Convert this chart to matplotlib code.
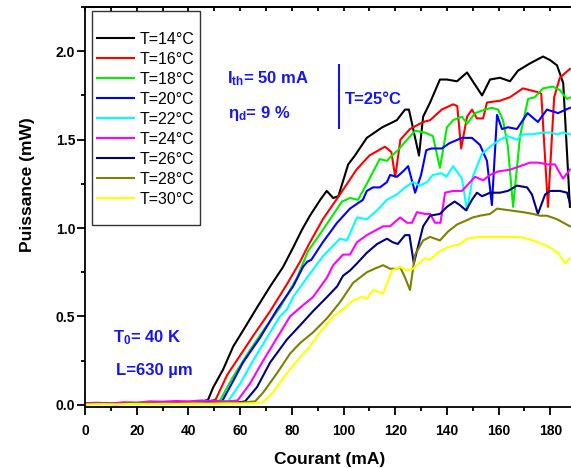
import matplotlib
matplotlib.use('Agg')
import matplotlib.pyplot as plt
from matplotlib.patches import Rectangle
from matplotlib.ticker import MultipleLocator, FormatStrFormatter

plt.rcParams['font.family'] = ['Liberation Sans', 'DejaVu Sans']
plt.rcParams['mathtext.fontset'] = 'custom'
plt.rcParams['mathtext.rm'] = 'Liberation Sans'
plt.rcParams['mathtext.bf'] = 'Liberation Sans:bold'
plt.rcParams['mathtext.it'] = 'Liberation Sans:italic'

# courant (mA) / puissance (mW)
I14 = [0, 6, 12, 18, 24, 30, 36, 42, 46, 47.6, 49.6, 53.4, 57.3, 61.1, 66.5, 71.6, 76.6, 80.5, 83.9, 87, 91, 93.5, 96, 98,
       101.8, 104.4, 109, 115, 120.6, 123.8, 125.3, 129.2, 130.8, 133.5, 137.3, 140, 143.9, 147.8, 150, 153.6, 156.7,
       160.5, 162.5, 164.4, 167.5, 172, 177.2, 179.9, 182.6, 185, 187.6]
P14 = [0.005, 0.008, 0.006, 0.01, 0.012, 0.008, 0.012, 0.015, 0.02, 0.03, 0.10, 0.20, 0.33, 0.42, 0.55, 0.67, 0.78, 0.89,
       0.99, 1.07, 1.16, 1.21, 1.17, 1.18, 1.36, 1.41, 1.51, 1.57, 1.61, 1.67, 1.67, 1.41, 1.63, 1.71, 1.84, 1.84, 1.83,
       1.88, 1.83, 1.75, 1.84, 1.85, 1.84, 1.83, 1.89, 1.93, 1.97, 1.95, 1.92, 1.82, 1.12]

I16 = [0, 6, 12, 18, 24, 30, 36, 42, 48, 50.5, 55, 60, 65, 71.6, 78, 83.2, 86.3, 92, 98.6, 105, 110, 116, 118.5, 120, 122,
       125.7, 130.8, 133.5, 138, 142.4, 144, 145.5, 147.8, 149.7, 151.6, 154, 155.5, 160.5, 164.4, 169.4, 174.8, 176.5,
       179.1, 181.5, 183.7, 187.6]
P16 = [0.006, 0.005, 0.01, 0.008, 0.012, 0.01, 0.012, 0.014, 0.02, 0.03, 0.17, 0.28, 0.39, 0.53, 0.68, 0.81, 0.90, 1.05,
       1.19, 1.33, 1.41, 1.46, 1.43, 1.29, 1.50, 1.56, 1.60, 1.61, 1.67, 1.70, 1.69, 1.45, 1.63, 1.67, 1.62, 1.62, 1.71,
       1.72, 1.74, 1.79, 1.77, 1.76, 1.12, 1.74, 1.85, 1.90]

I18 = [0, 6, 12, 18, 24, 30, 36, 42, 48, 52, 57.3, 63.8, 68.9, 75.4, 82, 86.3, 92, 99.4, 102.5, 105.6, 109, 114, 116.8,
       118, 121, 124.6, 127.7, 131.5, 134.6, 137.3, 140, 142.4, 145.8, 147.8, 150.9, 154.7, 157.4, 159.8, 161.7, 163.6,
       165.6, 168.3, 171.4, 174, 177.2, 181, 183.7, 186.5, 188]
P18 = [0.004, 0.006, 0.005, 0.008, 0.006, 0.01, 0.008, 0.012, 0.015, 0.02, 0.16, 0.31, 0.42, 0.55, 0.72, 0.87, 0.99, 1.15,
       1.17, 1.16, 1.25, 1.39, 1.38, 1.40, 1.44, 1.50, 1.55, 1.54, 1.52, 1.34, 1.57, 1.61, 1.63, 1.59, 1.65, 1.67, 1.68,
       1.67, 1.61, 1.46, 1.12, 1.52, 1.73, 1.74, 1.79, 1.80, 1.78, 1.73, 1.74]

I20 = [0, 6, 12, 18, 24, 30, 36, 42, 48, 53, 56, 61.1, 67.7, 74.3, 80.5, 84.3, 86, 87.5, 92, 97.5, 102.5, 107.5, 109,
       111.4, 114.1, 116.8, 118, 120.7, 123, 125, 127.7, 130, 132, 134, 138, 141, 145.8, 149.7, 152.8, 155.5, 157.4,
       159.4, 161.3, 163.6, 167.1, 171.2, 175.2, 178.7, 183, 187.6]
P20 = [0.008, 0.01, 0.006, 0.012, 0.01, 0.014, 0.012, 0.016, 0.018, 0.02, 0.10, 0.24, 0.38, 0.54, 0.67, 0.78, 0.81, 0.82,
       0.92, 1.03, 1.11, 1.16, 1.21, 1.23, 1.23, 1.26, 1.30, 1.29, 1.32, 1.35, 1.20, 1.30, 1.44, 1.45, 1.45, 1.48, 1.51,
       1.51, 1.47, 1.38, 1.13, 1.64, 1.56, 1.57, 1.56, 1.65, 1.60, 1.67, 1.65, 1.68]

I22 = [0, 6, 12, 18, 24, 30, 36, 42, 48, 52, 55.3, 60, 65, 71.6, 75.4, 78.1, 80.5, 85.9, 92, 98.6, 101.3, 105.2, 109, 113,
       116.8, 120.7, 123.8, 126.9, 129.6, 132.3, 134.5, 138, 139.8, 142.4, 145.8, 147.8, 150, 153.6, 156.7, 160.5, 163.5,
       167.1, 169.4, 173, 177.2, 180, 182.6, 185, 187.6]
P22 = [0.005, 0.008, 0.006, 0.01, 0.008, 0.012, 0.01, 0.012, 0.015, 0.018, 0.02, 0.12, 0.25, 0.41, 0.50, 0.54, 0.61, 0.72,
       0.84, 0.94, 0.93, 1.06, 1.05, 1.10, 1.16, 1.19, 1.23, 1.26, 1.24, 1.26, 1.30, 1.31, 1.29, 1.35, 1.28, 1.10, 1.29,
       1.42, 1.46, 1.50, 1.52, 1.50, 1.53, 1.53, 1.54, 1.54, 1.53, 1.54, 1.53]

I24 = [0, 5, 10, 15, 20, 25, 30, 35, 40, 45, 50, 55, 59, 63.8, 68.9, 74.3, 79.3, 83.2, 88.2, 93.6, 96, 99.8, 102.5, 105.2,
       109, 115.3, 118, 121.9, 124.6, 126.5, 128.4, 131.5, 133.5, 135.4, 137.5, 139.3, 142.4, 145.8, 149, 150.9, 154,
       156.7, 159.8, 164.4, 168.3, 172.1, 175.2, 179.1, 181.8, 184.9, 187.6]
P24 = [0.01, 0.012, 0.008, 0.015, 0.012, 0.02, 0.018, 0.022, 0.02, 0.025, 0.022, 0.02, 0.025, 0.12, 0.25, 0.38, 0.50, 0.55,
       0.61, 0.72, 0.79, 0.85, 0.85, 0.92, 0.96, 1.01, 1.01, 1.06, 1.03, 1.03, 1.09, 1.08, 1.08, 1.03, 1.03, 1.20, 1.21,
       1.21, 1.26, 1.29, 1.27, 1.30, 1.32, 1.33, 1.35, 1.37, 1.37, 1.36, 1.36, 1.28, 1.33]

I26 = [0, 6, 12, 18, 24, 30, 36, 42, 48, 54, 58, 61.9, 66.5, 71.6, 78.1, 83.2, 88.2, 93.6, 97.5, 99.8, 102.5, 105.2, 109,
       113, 116.8, 119, 121, 123.8, 125.5, 127.2, 130.8, 133.5, 137.3, 140, 143, 145, 147.4, 149.7, 151.6, 153.6, 156.7,
       160.5, 163.6, 167.1, 171, 172.9, 175.2, 178, 179.9, 183.7, 186.5, 187.6]
P26 = [0.005, 0.006, 0.004, 0.008, 0.01, 0.006, 0.008, 0.01, 0.012, 0.01, 0.012, 0.02, 0.10, 0.24, 0.37, 0.45, 0.53, 0.61,
       0.67, 0.73, 0.76, 0.80, 0.86, 0.91, 0.94, 0.92, 0.91, 0.96, 0.96, 0.80, 1.01, 1.07, 1.08, 1.12, 1.15, 1.13, 1.10,
       1.16, 1.20, 1.18, 1.20, 1.20, 1.21, 1.24, 1.23, 1.19, 1.08, 1.19, 1.21, 1.21, 1.20, 1.14]

I28 = [0, 6, 12, 18, 24, 30, 36, 42, 48, 54, 60, 65.8, 68.9, 74.3, 79.3, 83.2, 88.2, 93.6, 98.6, 103.7, 109, 112, 115.3,
       118, 120.7, 121.9, 123.8, 125.7, 127.7, 130.8, 133.5, 137.3, 140.4, 143.9, 147, 150, 152.8, 156.7, 159.4, 164.4,
       169.4, 173.3, 176, 178.7, 182.6, 187.6]
P28 = [0.006, 0.008, 0.005, 0.01, 0.012, 0.008, 0.01, 0.012, 0.01, 0.015, 0.012, 0.02, 0.07, 0.18, 0.29, 0.35, 0.41, 0.49,
       0.58, 0.69, 0.75, 0.77, 0.79, 0.77, 0.77, 0.78, 0.72, 0.65, 0.85, 0.93, 0.95, 0.93, 0.98, 1.02, 1.04, 1.06, 1.07,
       1.08, 1.11, 1.10, 1.09, 1.08, 1.07, 1.07, 1.05, 1.01]

I30 = [0, 6, 12, 18, 24, 30, 36, 42, 48, 54, 60, 66, 68.9, 72.7, 78.1, 83.2, 87, 90.9, 96, 99.8, 103.7, 107, 109, 111.4,
       115.3, 118.8, 121.9, 124.6, 126.9, 131.5, 133.5, 136.2, 140, 145, 147.8, 152.8, 157.8, 163.2, 168.3, 173.3, 178.7,
       183, 185.7, 187.6]
P30 = [0.002, 0.004, 0.003, 0.005, 0.004, 0.006, 0.005, 0.007, 0.006, 0.008, 0.008, 0.01, 0.015, 0.07, 0.18, 0.27, 0.33,
       0.41, 0.50, 0.54, 0.59, 0.61, 0.60, 0.65, 0.63, 0.76, 0.78, 0.76, 0.77, 0.83, 0.82, 0.86, 0.89, 0.91, 0.94, 0.95,
       0.95, 0.95, 0.95, 0.93, 0.90, 0.86, 0.80, 0.83]

courants = [I14, I16, I18, I20, I22, I24, I26, I28, I30]
puissances = [P14, P16, P18, P20, P22, P24, P26, P28, P30]
etiquettes = ['T=14°C', 'T=16°C', 'T=18°C', 'T=20°C', 'T=22°C', 'T=24°C', 'T=26°C', 'T=28°C', 'T=30°C']
couleurs = ['#000000', '#ff0000', '#00ee00', '#0000ff', '#00ffff', '#ff00ff', '#000080', '#808000', '#ffff00']

bleu = '#1515f0'

fig = plt.figure(figsize=(5.71, 4.68), dpi=100)
ax = fig.add_axes([0.149, 0.1303, 0.86, 0.8547])

for I, P, c, lab in zip(courants, puissances, couleurs, etiquettes):
    ax.plot(I, P, color=c, lw=1.5, label=lab)

ax.set_xlim(0, 190)
ax.set_ylim(-0.012, 2.25)
ax.spines['right'].set_visible(False)
for s in ['left', 'bottom', 'top']:
    ax.spines[s].set_linewidth(1.3)

ax.xaxis.set_major_locator(MultipleLocator(20))
ax.xaxis.set_minor_locator(MultipleLocator(10))
ax.yaxis.set_major_locator(MultipleLocator(0.5))
ax.yaxis.set_minor_locator(MultipleLocator(0.25))
ax.yaxis.set_major_formatter(FormatStrFormatter('%.1f'))
ax.tick_params(which='major', direction='out', length=6, width=1.3, labelsize=10)
ax.tick_params(which='minor', direction='out', length=3, width=1.3)
ax.tick_params(axis='x', which='major', pad=6)
ax.tick_params(axis='y', which='major', pad=1)
plt.setp(ax.get_xticklabels() + ax.get_yticklabels(), fontweight='bold')

haut = ax.secondary_xaxis('top')
haut.xaxis.set_major_locator(MultipleLocator(10))
haut.tick_params(direction='in', length=3, width=1.3, labeltop=False)
haut.spines['top'].set_linewidth(1.3)

ax.set_xlabel('Courant (mA)', fontsize=12.5, fontweight='bold', va='center')
ax.set_ylabel('Puissance (mW)', fontsize=12.5, fontweight='bold', va='center')
ax.xaxis.set_label_coords(0.498, -0.13)
ax.yaxis.set_label_coords(-0.118, 0.557)

# annotations
ax.text(54.9, 1.82, r'$\mathbf{I_{th}}$= 50 mA', color=bleu, fontsize=12, fontweight='bold', va='baseline')
ax.text(55.3, 1.62, r'$\mathbf{\eta_{d}}$= 9 %', color=bleu, fontsize=12, fontweight='bold', va='baseline')
ax.vlines(98.4, 1.56, 1.93, color=bleu, lw=1.5)
ax.text(100.6, 1.70, 'T=25°C', color=bleu, fontsize=12, fontweight='bold', va='baseline')
ax.text(10.8, 0.356, r'$\mathbf{T_{0}}$= 40 K', color=bleu, fontsize=12, fontweight='bold', va='baseline')
ax.text(12, 0.17, 'L=630 µm', color=bleu, fontsize=12, fontweight='bold', va='baseline')

leg = ax.legend(loc='upper left', bbox_to_anchor=(97 / 571, 1 - 32 / 468), bbox_transform=fig.transFigure,
                frameon=False, borderpad=0, borderaxespad=0, handlelength=2.3, handletextpad=0.4,
                labelspacing=0.31, prop={'size': 11.5})
fig.add_artist(Rectangle((92 / 571, 1 - 225 / 468), 108 / 571, 214 / 468, transform=fig.transFigure,
                         fill=False, ec='#333333', lw=1.0))

fig.savefig('out.png', dpi=100)
